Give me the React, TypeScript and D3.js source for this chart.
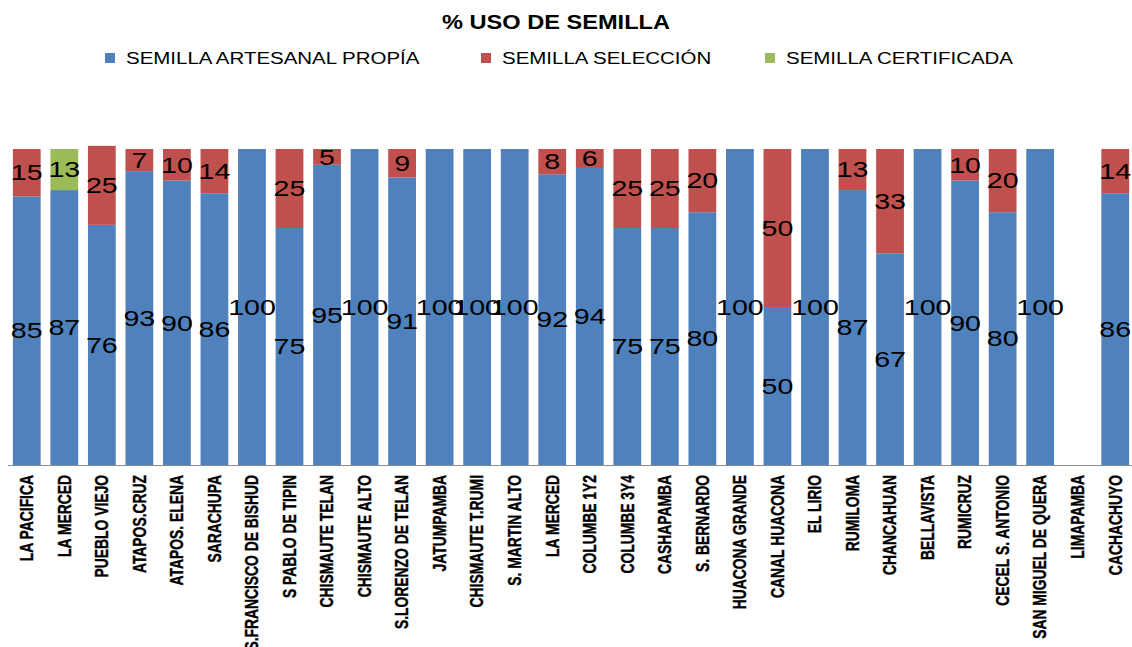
import { useEffect, useRef } from "react";
import * as d3 from "d3";

const categories = [
  "LA PACIFICA", "LA MERCED", "PUEBLO VIEJO", "ATAPOS.CRUZ", "ATAPOS. ELENA",
  "SARACHUPA", "S.FRANCISCO DE BISHUD", "S PABLO DE TIPIN", "CHISMAUTE TELAN",
  "CHISMAUTE ALTO", "S.LORENZO DE TELAN", "JATUMPAMBA", "CHISMAUTE T.RUMI",
  "S. MARTIN ALTO", "LA MERCED", "COLUMBE 1Y2", "COLUMBE 3Y4", "CASHAPAMBA",
  "S. BERNARDO", "HUACONA GRANDE", "CANAL HUACONA", "EL LIRIO", "RUMILOMA",
  "CHANCAHUAN", "BELLAVISTA", "RUMICRUZ", "CECEL S. ANTONIO",
  "SAN MIGUEL DE QUERA", "LIMAPAMBA", "CACHACHUYO",
];

const artesanal = [85, 87, 76, 93, 90, 86, 100, 75, 95, 100, 91, 100, 100, 100, 92,
  94, 75, 75, 80, 100, 50, 100, 87, 67, 100, 90, 80, 100, 0, 86];
const seleccion = [15, 0, 25, 7, 10, 14, 0, 25, 5, 0, 9, 0, 0, 0, 8,
  6, 25, 25, 20, 0, 50, 0, 13, 33, 0, 10, 20, 0, 0, 14];
const certificada = [0, 13, 0, 0, 0, 0, 0, 0, 0, 0, 0, 0, 0, 0, 0,
  0, 0, 0, 0, 0, 0, 0, 0, 0, 0, 0, 0, 0, 0, 0];

const seriesNames = ["SEMILLA ARTESANAL PROPÍA", "SEMILLA SELECCIÓN", "SEMILLA CERTIFICADA"];
const colors = ["#4F81BD", "#C0504D", "#9BBB59"];

export default function App() {
  const ref = useRef<HTMLDivElement>(null);

  useEffect(() => {
    const container = d3.select(ref.current);
    container.selectAll("*").remove();

    const width = 1132, height = 647;
    const baseY = 465, topY = 149;

    const svg = container.append("svg")
      .attr("width", width)
      .attr("height", height)
      .style("position", "absolute")
      .style("left", 0)
      .style("top", 0)
      .style("background", "#fff");

    const rows = categories.map((c, i) => ({
      i, cat: c, a: artesanal[i], s: seleccion[i], c: certificada[i],
    }));
    const stack = d3.stack<any>().keys(["a", "s", "c"]);
    const series = stack(rows);

    const x = d3.scaleBand<number>()
      .domain(rows.map(d => d.i))
      .range([8, 1134])
      .paddingInner(0.26)
      .paddingOuter(0.13);

    const y = d3.scaleLinear().domain([0, 100]).range([baseY, topY]);

    // title
    svg.append("text")
      .attr("transform", "translate(556,29) scale(1.18,1)")
      .attr("text-anchor", "middle")
      .attr("font-family", "Liberation Sans, Arial, sans-serif")
      .attr("font-weight", "bold")
      .attr("font-size", 20)
      .text("% USO DE SEMILLA");

    // legend
    const legendX = [105, 481, 765];
    const legend = svg.append("g");
    seriesNames.forEach((name, k) => {
      legend.append("rect")
        .attr("x", legendX[k]).attr("y", 53)
        .attr("width", 10).attr("height", 10)
        .attr("fill", colors[k]);
      legend.append("text")
        .attr("transform", `translate(${legendX[k] + 21},64) scale(1.28,1)`)
        .attr("font-family", "Liberation Sans, Arial, sans-serif")
        .attr("font-size", 16)
        .attr("fill", "#000")
        .text(name);
    });

    // bars
    const g = svg.append("g");
    series.forEach((s, k) => {
      g.append("g")
        .selectAll("rect")
        .data(s.filter(d => d[1] - d[0] > 0))
        .join("rect")
          .attr("x", d => x(d.data.i)!)
          .attr("y", d => y(d[1]))
          .attr("width", x.bandwidth())
          .attr("height", d => y(d[0]) - y(d[1]))
          .attr("fill", colors[k]);
    });

    // axis line
    svg.append("line")
      .attr("x1", 8).attr("x2", width)
      .attr("y1", baseY + 0.5).attr("y2", baseY + 0.5)
      .attr("stroke", "#8c8c8c");

    // data labels
    series.forEach(s => {
      g.append("g")
        .selectAll("text")
        .data(s.filter(d => d[1] - d[0] > 0))
        .join("text")
          .attr("transform", d =>
            `translate(${x(d.data.i)! + x.bandwidth() / 2},${y((d[0] + d[1]) / 2)}) scale(1.3,1)`)
          .attr("text-anchor", "middle")
          .attr("dominant-baseline", "central")
          .attr("font-family", "Liberation Sans, Arial, sans-serif")
          .attr("font-size", 22)
          .attr("fill", "#000")
          .text(d => d[1] - d[0]);
    });

    // category labels
    svg.append("g")
      .selectAll("text")
      .data(rows)
      .join("text")
        .attr("transform", d =>
          `translate(${x(d.i)! + x.bandwidth() / 2},475) rotate(-90) scale(0.73,1)`)
        .attr("text-anchor", "end")
        .attr("dominant-baseline", "central")
        .attr("font-family", "Liberation Sans, Arial, sans-serif")
        .attr("font-weight", "bold")
        .attr("font-size", 19)
        .attr("fill", "#000")
        .attr("stroke", "#000")
        .attr("stroke-width", 0.4)
        .text(d => d.cat);
  }, []);

  return <div ref={ref}></div>;
}
